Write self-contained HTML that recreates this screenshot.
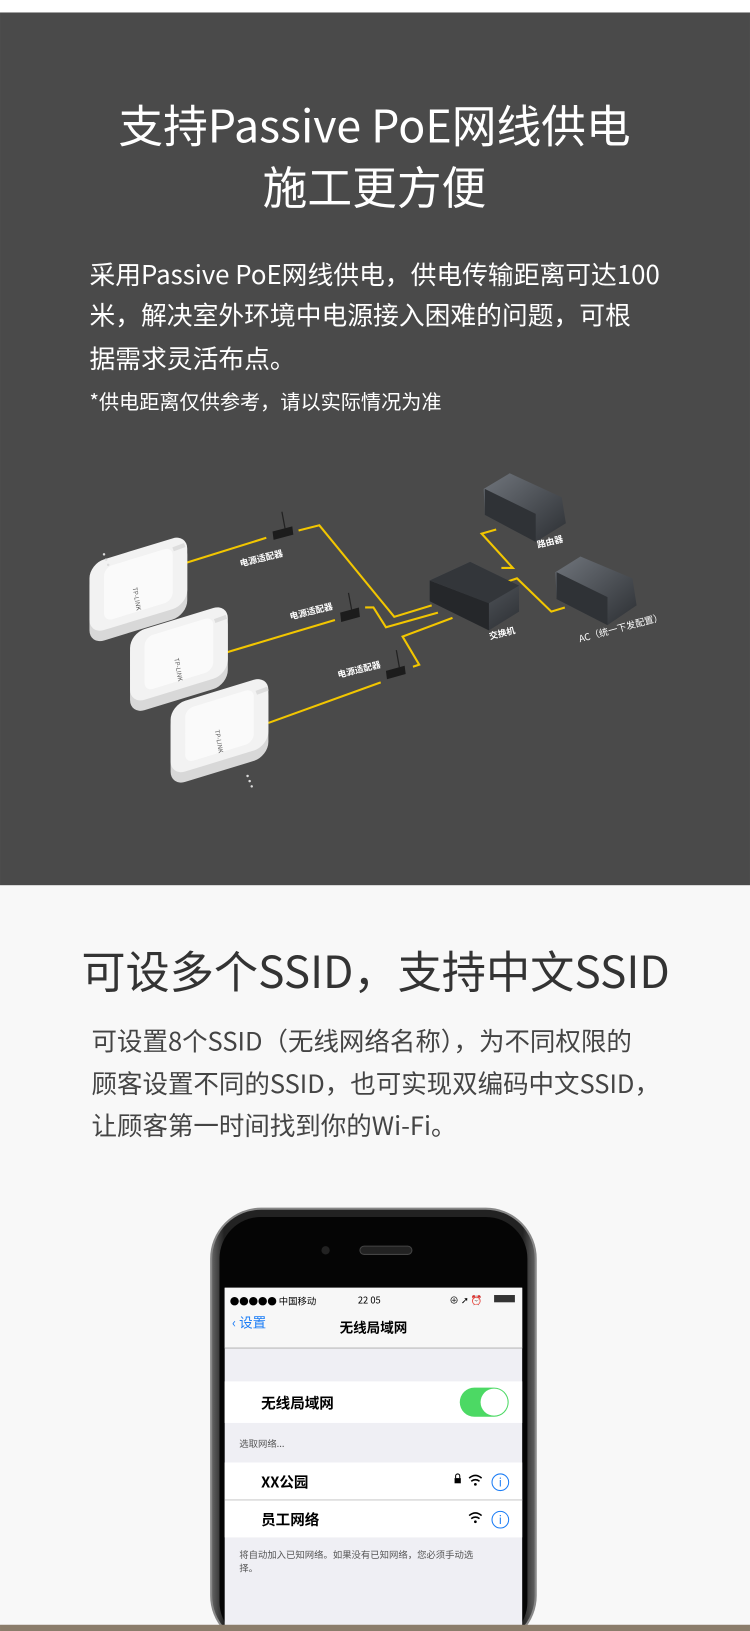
<!DOCTYPE html>
<html><head><meta charset="utf-8"><style>
html,body{margin:0;padding:0;width:750px;height:1631px;overflow:hidden;background:#f8f8f8}
svg{display:block}
text{font-family:"Noto Sans CJK SC","Liberation Sans",sans-serif}
</style></head><body>
<svg width="750" height="1631" viewBox="0 0 721 1568" xmlns="http://www.w3.org/2000/svg">
<defs>
<linearGradient id="box" x1="0" y1="0" x2="1" y2="1"><stop offset="0" stop-color="#70757c"/><stop offset="1" stop-color="#2c2f33"/></linearGradient>
<linearGradient id="ph" x1="0" x2="1"><stop offset="0" stop-color="#666"/><stop offset=".04" stop-color="#222"/><stop offset=".96" stop-color="#222"/><stop offset="1" stop-color="#666"/></linearGradient>
</defs>
<rect width="721" height="1568" fill="#f8f8f8"/>
<rect y="0" width="721" height="12" fill="#fff"/>
<rect y="12" width="721" height="839" fill="#4a4a4a"/>
<g fill="#fff">
<text x="360" y="137" font-size="43" text-anchor="middle">支持Passive PoE网线供电</text>
<text x="360" y="196" font-size="43" text-anchor="middle">施工更方便</text>
<text x="86" y="273" font-size="24.8">采用Passive PoE网线供电，供电传输距离可达100</text>
<text x="86" y="312" font-size="24.8">米，解决室外环境中电源接入困难的问题，可根</text>
<text x="86" y="354" font-size="24.8">据需求灵活布点。</text>
<text x="86" y="393" font-size="19.4">*供电距离仅供参考，请以实际情况为准</text>
</g>
<!-- cables -->
<g fill="none" stroke="#f2c600" stroke-width="2">
<polyline points="176,542 256,517"/>
<polyline points="287,510 307,505 379,593 415,582"/>
<polyline points="215,628 322,596"/>
<polyline points="351,584 359,584 371,603 421,589"/>
<polyline points="258,695 366,656"/>
<polyline points="397,641 403,639 387,612 435,594"/>
<polyline points="482,546 493,546 463,513 477,509"/>
<polyline points="482,561 497,556 530,588 543,584"/>
</g>
<!-- APs -->
<g>
<g transform="translate(86,548) skewY(-17)"><rect x="0" y="0" width="94" height="72" rx="14" fill="#d8d8d8"/><rect x="0" y="-6" width="94" height="68" rx="14" fill="#f2f2f2"/><rect x="14" y="2" width="66" height="52" rx="8" fill="#fafafa"/></g>
<g transform="translate(125,615) skewY(-17)"><rect x="0" y="0" width="94" height="72" rx="14" fill="#d8d8d8"/><rect x="0" y="-6" width="94" height="68" rx="14" fill="#f2f2f2"/><rect x="14" y="2" width="66" height="52" rx="8" fill="#fafafa"/></g>
<g transform="translate(164,684) skewY(-17)"><rect x="0" y="0" width="94" height="72" rx="14" fill="#d8d8d8"/><rect x="0" y="-6" width="94" height="68" rx="14" fill="#f2f2f2"/><rect x="14" y="2" width="66" height="52" rx="8" fill="#fafafa"/></g>
<g font-size="6" fill="#555"><text x="125" y="568" transform="rotate(80 128 568)">TP-LINK</text><text x="165" y="636" transform="rotate(80 168 636)">TP-LINK</text><text x="204" y="705" transform="rotate(80 207 705)">TP-LINK</text></g>
<g fill="#ddd"><rect x="166" y="524" width="12" height="4" transform="rotate(-20 172 526)"/><rect x="206" y="593" width="12" height="4" transform="rotate(-20 212 595)"/><rect x="246" y="662" width="12" height="4" transform="rotate(-20 252 664)"/></g>
<g fill="#ddd"><circle cx="100" cy="533" r="1.2"/><circle cx="102" cy="538" r="1.2"/><circle cx="104" cy="543" r="1.2"/><circle cx="238" cy="746" r="1.2"/><circle cx="240" cy="751" r="1.2"/><circle cx="242" cy="756" r="1.2"/></g>
</g>
<!-- adapters -->
<g fill="#1c1c1c">
<polygon points="262,511 281,506 282,514 263,519"/>
<polygon points="327,589 345,584 346,593 328,598"/>
<polygon points="371,645 389,640 390,648 372,653"/>
</g>
<g stroke="#222" stroke-width="1.2"><line x1="271" y1="492" x2="274" y2="508"/><line x1="335" y1="570" x2="338" y2="586"/><line x1="381" y1="625" x2="384" y2="642"/></g>
<!-- switches -->
<polygon points="413,558 452,540 499,563 499,588 470,606 413,578" fill="url(#box)"/>
<polygon points="413,558 452,540 499,563 470,580" fill="#33363a"/>
<polygon points="413,558 470,580 470,606 413,578" fill="#25272a"/>
<polygon points="465,470 490,455 540,478 544,503 515,521 466,495" fill="url(#box)"/>
<polygon points="466,470 515,494 515,521 466,495" fill="#2f3236"/>
<polygon points="534,550 558,535 608,556 612,582 584,601 535,576" fill="url(#box)"/>
<polygon points="535,550 584,574 584,601 535,576" fill="#2f3236"/>
<g fill="#fff" font-size="8.5" font-weight="bold">
<text x="230" y="540" transform="rotate(-14 250 537)">电源适配器</text>
<text x="278" y="591" transform="rotate(-14 298 588)">电源适配器</text>
<text x="324" y="647" transform="rotate(-14 344 644)">电源适配器</text>
<text x="516" y="524" transform="rotate(-14 528 521)">路由器</text>
<text x="470" y="612" transform="rotate(-14 482 609)">交换机</text>
<text x="555" y="607" font-weight="normal" font-size="9" transform="rotate(-15 596 603)">AC（统一下发配置）</text>
</g>
<!-- section 2 -->
<text x="361" y="950" font-size="42.5" fill="#333" text-anchor="middle">可设多个SSID，支持中文SSID</text>
<g fill="#444" font-size="24.5">
<text x="88" y="1010">可设置8个SSID（无线网络名称），为不同权限的</text>
<text x="88" y="1051">顾客设置不同的SSID，也可实现双编码中文SSID，</text>
<text x="88" y="1091">让顾客第一时间找到你的Wi-Fi。</text>
</g>
<!-- phone -->
<rect x="203" y="1162" width="312" height="420" rx="48" fill="url(#ph)" stroke="#888" stroke-width="2"/>
<rect x="211" y="1170" width="296" height="410" rx="40" fill="#050505"/>
<circle cx="313" cy="1202" r="4" fill="#222"/>
<rect x="346" y="1198" width="50" height="8" rx="4" fill="#222" stroke="#444"/>
<rect x="216" y="1238" width="286" height="330" fill="#efeff4"/>
<rect x="216" y="1238" width="286" height="58" fill="#f7f7f7"/>
<line x1="216" y1="1296" x2="502" y2="1296" stroke="#bbb"/>
<g font-size="9" fill="#000"><text x="221" y="1254">●●●●● 中国移动</text><text x="344" y="1253">22 05</text><text x="432" y="1253">⊕ ➚ ⏰</text></g>
<rect x="475" y="1245" width="20" height="7" fill="#333"/>
<text x="223" y="1276" font-size="13" fill="#1a7cf5">‹ 设置</text>
<text x="359" y="1281" font-size="13" fill="#000" text-anchor="middle" font-weight="bold">无线局域网</text>
<rect x="216" y="1328" width="286" height="40" fill="#fff"/>
<text x="251" y="1354" font-size="14" fill="#000" font-weight="bold">无线局域网</text>
<rect x="442" y="1334" width="47" height="28" rx="14" fill="#4cd964"/>
<circle cx="475" cy="1348" r="13" fill="#fff"/>
<text x="230" y="1391" font-size="9" fill="#555">选取网络...</text>
<rect x="216" y="1406" width="286" height="72" fill="#fff"/>
<line x1="216" y1="1442" x2="502" y2="1442" stroke="#ccc"/>
<text x="251" y="1430" font-size="14" fill="#000" font-weight="bold">XX公园</text>
<text x="251" y="1466" font-size="14" fill="#000" font-weight="bold">员工网络</text>
<rect x="437" y="1421" width="6" height="5" fill="#000"/><path d="M438 1421 v-2 a2 2 0 0 1 4 0 v2" stroke="#000" fill="none"/>
<circle cx="481" cy="1425" r="8" fill="none" stroke="#1a7cf5"/><text x="481" y="1429" font-size="11" fill="#1a7cf5" text-anchor="middle">i</text>
<circle cx="481" cy="1461" r="8" fill="none" stroke="#1a7cf5"/><text x="481" y="1465" font-size="11" fill="#1a7cf5" text-anchor="middle">i</text>
<path d="M451 1421 q6 -5 12 0 M453 1424 q4 -3 8 0" stroke="#000" stroke-width="1.5" fill="none"/><circle cx="457" cy="1427" r="1.3"/>
<path d="M451 1457 q6 -5 12 0 M453 1460 q4 -3 8 0" stroke="#000" stroke-width="1.5" fill="none"/><circle cx="457" cy="1463" r="1.3"/>
<g font-size="9" fill="#555"><text x="230" y="1498">将自动加入已知网络。如果没有已知网络，您必须手动选</text><text x="230" y="1511">择。</text></g>
<rect y="1562" width="721" height="6" fill="#8b7d6b"/>
</svg>
</body></html>
